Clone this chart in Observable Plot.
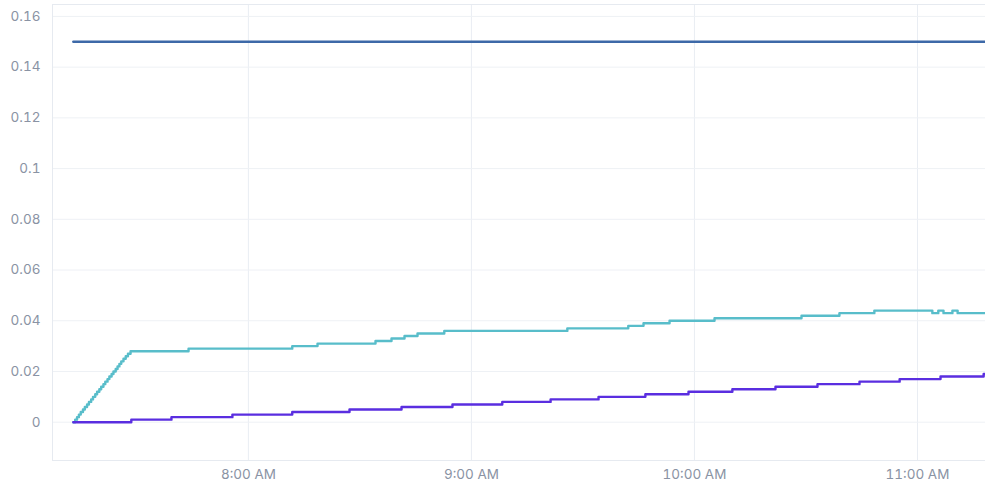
<!DOCTYPE html>
<html>
<head>
<meta charset="utf-8">
<script src="https://cdn.jsdelivr.net/npm/d3@7"></script>
<script src="https://cdn.jsdelivr.net/npm/@observablehq/plot@0.6"></script>
<style>
  html, body { margin: 0; padding: 0; background: #ffffff; overflow: hidden; }
  #chart svg { display: block; }
</style>
</head>
<body>
<div id="chart"></div>
<script>
// Minutes after 7:00 AM, and values
const limitMinutes = [12.9, 258.3];
const limitValues = [0.15, 0.15];

const cyanMinutes = [12.9, 13.4, 13.9, 14.4, 14.9, 15.5, 16.0, 16.6, 17.1, 17.7, 18.2, 18.8, 19.3, 19.9, 20.4, 21.0,
  21.5, 22.1, 22.6, 23.2, 23.7, 24.3, 24.8, 25.3, 25.8, 26.4, 27.0, 27.6, 28.3,
  43.9, 71.8, 78.6, 94.2, 98.5, 102.0, 105.5, 112.7, 145.8, 162.2, 166.3, 173.3, 185.4, 208.8, 219.0, 228.4,
  244.0, 245.6, 247.0, 249.4, 250.8, 258.3];
const cyanValues = [0, 0.001, 0.002, 0.003, 0.004, 0.005, 0.006, 0.007, 0.008, 0.009, 0.010, 0.011, 0.012, 0.013, 0.014, 0.015,
  0.016, 0.017, 0.018, 0.019, 0.020, 0.021, 0.022, 0.023, 0.024, 0.025, 0.026, 0.027, 0.028,
  0.029, 0.030, 0.031, 0.032, 0.033, 0.034, 0.035, 0.036, 0.037, 0.038, 0.039, 0.040, 0.041, 0.042, 0.043, 0.044,
  0.043, 0.044, 0.043, 0.044, 0.043, 0.043];

const purpleMinutes = [12.9, 28.5, 39.3, 55.7, 71.8, 87.2, 101.2, 114.9, 128.3, 141.3, 154.2, 166.8, 178.4, 190.2,
  201.8, 213.1, 224.4, 235.2, 246.2, 257.8, 258.3];
const purpleValues = [0, 0.001, 0.002, 0.003, 0.004, 0.005, 0.006, 0.007, 0.008, 0.009, 0.010, 0.011, 0.012, 0.013,
  0.014, 0.015, 0.016, 0.017, 0.018, 0.019, 0.019];

const xDomainMinutes = [7.3, 258.3];
const yDomain = [-0.0151, 0.1647];
const yTicks = [0, 0.02, 0.04, 0.06, 0.08, 0.1, 0.12, 0.14, 0.16];

const base = new Date(2024, 0, 15, 7, 0, 0);
const toDate = m => new Date(base.getTime() + m * 60000);
const rows = (ms, vs) => ms.map((m, i) => ({t: toDate(m), v: vs[i]}));

const xTicks = d3.range(8, 12).map(h => new Date(2024, 0, 15, h, 0, 0));

const chart = Plot.plot({
  width: 985,
  height: 491,
  marginTop: 4,
  marginBottom: 31,
  marginLeft: 52,
  marginRight: 0,
  style: {fontFamily: "Inter, 'Noto Sans', sans-serif", fontSize: "13.5px", color: "#8a93a4", background: "#ffffff"},
  x: {type: "time", domain: xDomainMinutes.map(toDate), ticks: xTicks, tickFormat: d3.timeFormat("%-I:%M %p"),
      tickSize: 0, tickPadding: 9, label: null},
  y: {domain: yDomain, ticks: yTicks, tickFormat: d => String(+d.toFixed(2)), tickSize: 0, tickPadding: 12, label: null},
  marks: [
    Plot.gridX(xTicks, {stroke: "#e9edf3", strokeOpacity: 1}),
    Plot.gridY(yTicks, {stroke: "#eef1f5", strokeOpacity: 1}),
    Plot.frame({stroke: "#e6eaf0"}),
    Plot.line(rows(limitMinutes, limitValues), {x: "t", y: "v", stroke: "#3d69a8", strokeWidth: 2.4}),
    Plot.line(rows(cyanMinutes, cyanValues), {x: "t", y: "v", stroke: "#58bdca", strokeWidth: 2.4, curve: "step-after"}),
    Plot.line(rows(purpleMinutes, purpleValues), {x: "t", y: "v", stroke: "#5a2ee0", strokeWidth: 2.4, curve: "step-after"})
  ]
});
document.getElementById("chart").appendChild(chart);
</script>
</body>
</html>
